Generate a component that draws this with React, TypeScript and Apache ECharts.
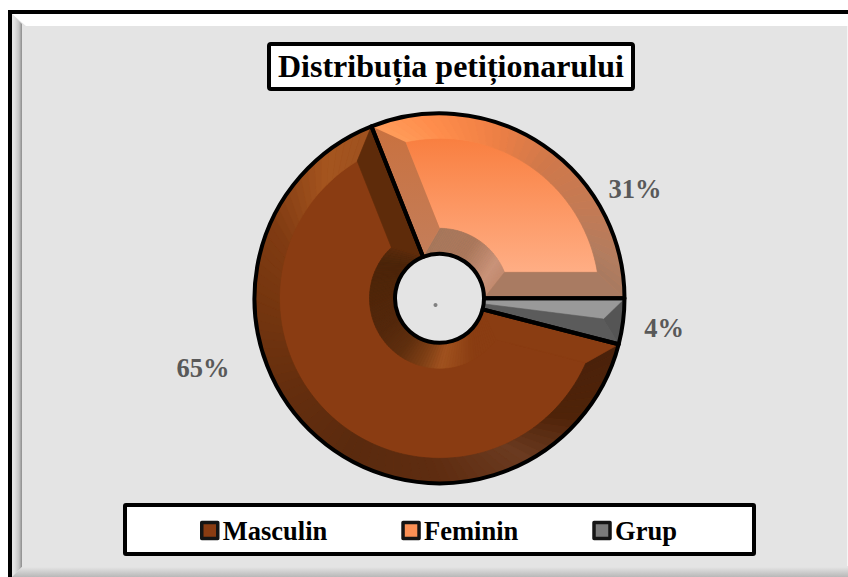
import React, { useEffect, useRef } from "react";
import * as echarts from "echarts";

const titleText = "Distribuția petiționarului";
const categories = ["Masculin", "Feminin", "Grup"];
const shares = [65, 31, 4];
const sliceColors = ["#8a3c12", "#fb9055", "#7a7a7a"];

const SERIF = "'Liberation Serif', 'Times New Roman', serif";
const CX = 439.5;
const CY = 298.3;
const R = 185;
const RI = 44.5;
const FACE_OUT = 160;
const FACE_IN = 70;
const OFFSET = 26;
const START = -14.4;
const labelSpots = [
  [203, 368],
  [635, 189],
  [664, 328],
];

type Stop = [number, string];
const outerStops: Stop[][] = [
  [
    [-14, "#4a210a"], [-40, "#4f2309"], [-61, "#6a3a20"], [-90, "#5e2c10"], [-120, "#5a2a0e"],
    [-150, "#652e0e"], [-180, "#75360f"], [-205, "#803b12"], [-233, "#a5551f"], [-248.4, "#a0521f"],
  ],
  [
    [-248.4, "#ff9c5a"], [-265, "#ff8d4c"], [-287, "#ef8045"], [-308, "#d0784a"], [-332, "#c27a55"], [-350, "#b27d60"], [-360, "#a87a60"],
  ],
];
const innerStops: Stop[][] = [
  [
    [-14, "#8a3d12"], [-45, "#8a3d12"], [-80, "#a0521f"], [-100, "#7e3f15"], [-125, "#5e2e0e"], [-155, "#52270b"], [-190, "#4f2509"], [-230, "#4a2409"], [-248.4, "#5a2a0c"],
  ],
  [
    [-248.4, "#a5775c"], [-300, "#a8775c"], [-340, "#c8937a"], [-360, "#c08a70"],
  ],
];
const startBevel = ["#8a3d12", null];
const endBevel = ["#5e2b0a", "#a97b62"];

const rad = (d: number) => (d * Math.PI) / 180;
const pt = (r: number, a: number): number[] => [CX + r * Math.cos(rad(a)), CY - r * Math.sin(rad(a))];
const inset = (r: number) => (Math.asin(OFFSET / r) * 180) / Math.PI;

const hexMix = (a: string, b: string, t: number) => {
  const p = (s: string, i: number) => parseInt(s.slice(i, i + 2), 16);
  const c = [1, 3, 5].map((i) => Math.round(p(a, i) + (p(b, i) - p(a, i)) * t));
  return `rgb(${c[0]},${c[1]},${c[2]})`;
};
const colorAt = (stops: Stop[], angle: number) => {
  for (let i = 0; i < stops.length - 1; i++) {
    const [a0, c0] = stops[i];
    const [a1, c1] = stops[i + 1];
    if (angle <= a0 && angle >= a1) return hexMix(c0, c1, (a0 - angle) / (a0 - a1));
  }
  return angle > stops[0][0] ? stops[0][1] : stops[stops.length - 1][1];
};

const poly = (points: number[][], fill: any) => ({
  type: "polygon",
  shape: { points },
  style: { fill, stroke: typeof fill === "string" ? fill : undefined, lineWidth: typeof fill === "string" ? 0.6 : 0 },
});

const ringBands = (
  rEdge: number,
  rFace: number,
  a0: number,
  a1: number,
  f0: number,
  f1: number,
  stops: Stop[]
) => {
  const n = Math.max(2, Math.ceil((a0 - a1) / 3));
  const out: any[] = [];
  for (let i = 0; i < n; i++) {
    const t0 = i / n;
    const t1 = (i + 1) / n;
    const e0 = a0 + (a1 - a0) * t0;
    const e1 = a0 + (a1 - a0) * t1;
    const g0 = f0 + (f1 - f0) * t0;
    const g1 = f0 + (f1 - f0) * t1;
    out.push(poly([pt(rEdge, e0), pt(rEdge, e1), pt(rFace, g1), pt(rFace, g0)], colorAt(stops, (e0 + e1) / 2)));
  }
  return out;
};

const arcPts = (r: number, a: number, b: number) => {
  const n = Math.max(2, Math.ceil(Math.abs(a - b) / 2));
  const res: number[][] = [];
  for (let i = 0; i <= n; i++) res.push(pt(r, a + ((b - a) * i) / n));
  return res;
};

const total = shares.reduce((s, v) => s + v, 0);

const renderBevel = (params: any, api: any) => {
  const i = params.dataIndex;
  let before = 0;
  for (let k = 0; k < i; k++) before += shares[k];
  const sweep = (api.value(0) / total) * 360;
  const a0 = START - (before / total) * 360;
  const a1 = a0 - sweep;
  const children: any[] = [];

  if (sweep / 2 <= inset(FACE_OUT)) {
    const mid = (a0 + a1) / 2;
    const apex = pt(165, mid);
    const tip = pt(RI, mid);
    children.push(poly([...arcPts(R, a0, a1), apex], "#555555"));
    children.push(poly([tip, pt(RI, a0), pt(R, a0), apex], "#999999"));
    children.push(poly([tip, pt(RI, a1), pt(R, a1), apex], "#5b5b5b"));
    return { type: "group", children };
  }

  const oIn = inset(FACE_OUT);
  const iIn = inset(FACE_IN);
  const faceFill =
    i === 1
      ? new echarts.graphic.LinearGradient(0, 0, 0, 1, [
          { offset: 0, color: "#f97f40" },
          { offset: 1, color: "#ffae85" },
        ])
      : sliceColors[i];
  children.push(poly([...arcPts(FACE_OUT, a0 - oIn, a1 + oIn), ...arcPts(FACE_IN, a1 + iIn, a0 - iIn)], faceFill));
  children.push(...ringBands(R, FACE_OUT, a0, a1, a0 - oIn, a1 + oIn, outerStops[i]));
  children.push(...ringBands(RI, FACE_IN, a0, a1, a0 - iIn, a1 + iIn, innerStops[i]));
  const sFill =
    startBevel[i] ||
    new echarts.graphic.LinearGradient(0, 0, 0, 1, [
      { offset: 0, color: "#c9713f" },
      { offset: 1, color: "#c47e5a" },
    ]);
  children.push(poly([pt(R, a0), pt(FACE_OUT, a0 - oIn), pt(FACE_IN, a0 - iIn), pt(RI, a0)], sFill));
  children.push(poly([pt(R, a1), pt(FACE_OUT, a1 + oIn), pt(FACE_IN, a1 + iIn), pt(RI, a1)], endBevel[i]));
  return { type: "group", children };
};

const hGrad = (stops: [number, string][]) =>
  new echarts.graphic.LinearGradient(1, 0, 0, 0, stops.map(([offset, color]) => ({ offset, color })));
const vGrad = (stops: [number, string][]) =>
  new echarts.graphic.LinearGradient(0, 0, 0, 1, stops.map(([offset, color]) => ({ offset, color })));

export default function App() {
  const ref = useRef<HTMLDivElement>(null);
  useEffect(() => {
    document.body.style.margin = "0";
    const chart = echarts.init(ref.current!, null, { renderer: "svg" });
    const pieData = categories.map((name, i) => ({
      name,
      value: shares[i],
      itemStyle: { color: sliceColors[i] },
    }));
    const pieCommon = {
      type: "pie",
      center: [CX, CY],
      radius: [RI, R],
      startAngle: START,
      clockwise: true,
      silent: true,
    };
    chart.setOption({
      animation: false,
      backgroundColor: "#ffffff",
      title: {
        text: titleText,
        left: 269,
        top: 44,
        backgroundColor: "#ffffff",
        borderColor: "#000000",
        borderWidth: 4,
        borderRadius: 2,
        padding: [5, 9, 6, 9],
        textStyle: { fontFamily: SERIF, fontWeight: "bold", fontSize: 32, color: "#000000", lineHeight: 34 },
      },
      legend: {
        data: categories,
        left: 195,
        top: 512,
        itemGap: 74,
        itemWidth: 16,
        itemHeight: 16,
        icon: "rect",
        selectedMode: false,
        itemStyle: { borderColor: "#151515", borderWidth: 3.5 },
        textStyle: { fontFamily: SERIF, fontWeight: "bold", fontSize: 26.5, color: "#000000" },
      },
      graphic: [
        { type: "rect", z: -10, shape: { x: 10, y: 12, width: 860, height: 590 }, style: { fill: "#e4e4e4", stroke: "#000000", lineWidth: 4 } },
        { type: "polygon", z: -9, shape: { points: [[12, 14], [860, 14], [860, 26], [26, 26]] }, style: { fill: "#ffffff" } },
        { type: "polygon", z: -9, shape: { points: [[12, 14], [22, 24], [22, 567], [12, 577]] }, style: { fill: hGrad([[0, "#8c8c8c"], [0.3, "#c4c4c4"], [0.8, "#e4e4e4"], [1, "#e4e4e4"]]) } },
        { type: "polygon", z: -9, shape: { points: [[22, 567], [860, 567], [860, 577], [12, 577]] }, style: { fill: vGrad([[0, "#e4e4e4"], [1, "#b8b8b8"]]) } },
        { type: "rect", z: -9, shape: { x: 847, y: 26, width: 1, height: 540 }, style: { fill: "#f6f6f6" } },
        { type: "rect", z: -8, shape: { x: 125, y: 505, width: 629, height: 49, r: 1 }, style: { fill: "#ffffff", stroke: "#000000", lineWidth: 4 } },
        { type: "circle", z: -8, shape: { cx: 435.5, cy: 305, r: 2 }, style: { fill: "#808080" } },
      ],
      series: [
        {
          ...pieCommon,
          name: "Distribuție",
          z: 2,
          data: pieData,
          label: {
            show: true,
            position: "outside",
            formatter: "{c}%",
            fontFamily: SERIF,
            fontWeight: "bold",
            fontSize: 26.5,
            color: "#595959",
          },
          labelLine: { show: false },
          labelLayout: (p: any) => ({
            x: labelSpots[p.dataIndex][0],
            y: labelSpots[p.dataIndex][1],
            align: "center",
            verticalAlign: "middle",
          }),
          itemStyle: { borderWidth: 0 },
        },
        {
          type: "custom",
          coordinateSystem: "none",
          z: 3,
          silent: true,
          clip: false,
          renderItem: renderBevel,
          data: shares.map((v) => [v]),
          encode: { value: 0 },
        },
        {
          ...pieCommon,
          name: "Contur",
          z: 4,
          data: categories.map((name, i) => ({ name, value: shares[i] })),
          label: { show: false },
          labelLine: { show: false },
          itemStyle: { color: "rgba(0,0,0,0)", borderColor: "#000000", borderWidth: 4, borderJoin: "round" },
        },
      ],
    });
    return () => chart.dispose();
  }, []);
  return <div ref={ref} style={{ position: "fixed", left: 0, top: 0, width: 848, height: 577 }} />;
}
